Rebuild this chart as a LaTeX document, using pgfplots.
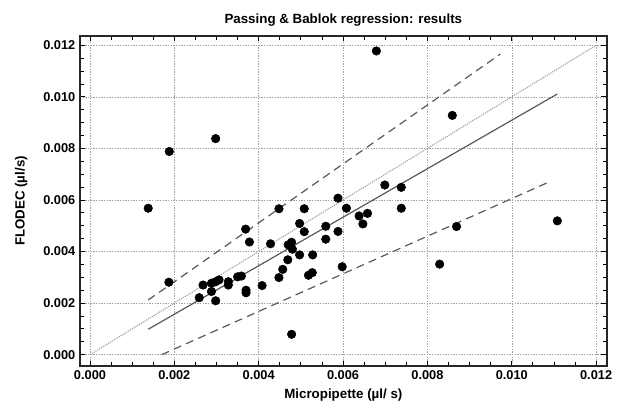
\documentclass[border=0pt]{standalone}
\usepackage{fontspec}
\setmainfont{Liberation Sans}
\usepackage{pgfplots}
\pgfplotsset{compat=1.18}

\pgfplotstableread{
x y
0.00138 0.00568
0.00188 0.00788
0.00298 0.00838
0.00187 0.00281
0.00679 0.01178
0.00859 0.00928
0.01108 0.00519
0.00869 0.00497
0.00829 0.00351
0.00738 0.00568
0.00738 0.00649
0.00699 0.00658
0.00598 0.00341
0.00588 0.00478
0.00608 0.00568
0.00638 0.00538
0.00658 0.00548
0.00647 0.00507
0.00588 0.00607
0.00448 0.00566
0.00508 0.00566
0.00497 0.00509
0.00508 0.00477
0.00559 0.00498
0.00559 0.00448
0.00478 0.00436
0.00470 0.00426
0.00480 0.00409
0.00428 0.00430
0.00469 0.00368
0.00497 0.00387
0.00528 0.00387
0.00457 0.00331
0.00527 0.00318
0.00518 0.00308
0.00448 0.00299
0.00478 0.00079
0.00369 0.00487
0.00378 0.00437
0.00259 0.00221
0.00268 0.00270
0.00288 0.00277
0.00288 0.00245
0.00298 0.00209
0.00298 0.00283
0.00306 0.00290
0.00328 0.00270
0.00328 0.00283
0.00350 0.00302
0.00359 0.00305
0.00370 0.00250
0.00370 0.00240
0.00408 0.00268
}\points

\begin{document}
\begin{tikzpicture}
\begin{axis}[
  scale only axis,
  width=395pt, height=247.5pt,
  xmin=-0.000237, xmax=0.01225,
  ymin=-0.00044, ymax=0.01236,
  xtick={0,0.002,...,0.012}, ytick={0,0.002,...,0.012},
  minor tick num=3,
  major tick length=4pt, minor tick length=3pt,
  scaled ticks=false,
  /pgf/number format/.cd, fixed, fixed zerofill, precision=3, assume math mode=true,
  /pgfplots/.cd,
  ticklabel style={font=\fontsize{9.6}{11}\selectfont\bfseries},
  grid=major,
  major grid style={gray!75, dash pattern=on 1pt off 1pt},
  axis line style={line width=1.6pt, black!85},
  tick style={black, line width=0.6pt},
  title={Passing \& Bablok regression: results},
  title style={font=\fontsize{10}{12}\selectfont\bfseries, yshift=-2pt},
  xlabel={Micropipette (µl/ s)},
  ylabel={FLODEC (µl/s)},
  ylabel shift=5pt,
  label style={font=\fontsize{10}{12}\selectfont\bfseries},
  clip=false,
]
\addplot[gray!80, line width=0.8pt, dash pattern=on 0.8pt off 0.8pt] coordinates {(0,0) (0.012,0.012)};
\addplot[black!65, line width=0.9pt] coordinates {(0.00138,0.000985) (0.01108,0.01011)};
\addplot[black!65, line width=0.9pt, dash pattern=on 6pt off 4pt] coordinates {(0.00138,0.00212) (0.00973,0.01166)};
\addplot[black!65, line width=0.9pt, dash pattern=on 6pt off 4pt] coordinates {(0.00170,0.0) (0.01090,0.00671)};
\addplot[only marks, mark=*, mark size=3.2pt, black] table {\points};
\end{axis}
\pgfresetboundingbox
\path (current axis.south west) ++(-60pt,-34.5pt) rectangle ++(463.5pt,309pt);
\end{tikzpicture}
\end{document}
